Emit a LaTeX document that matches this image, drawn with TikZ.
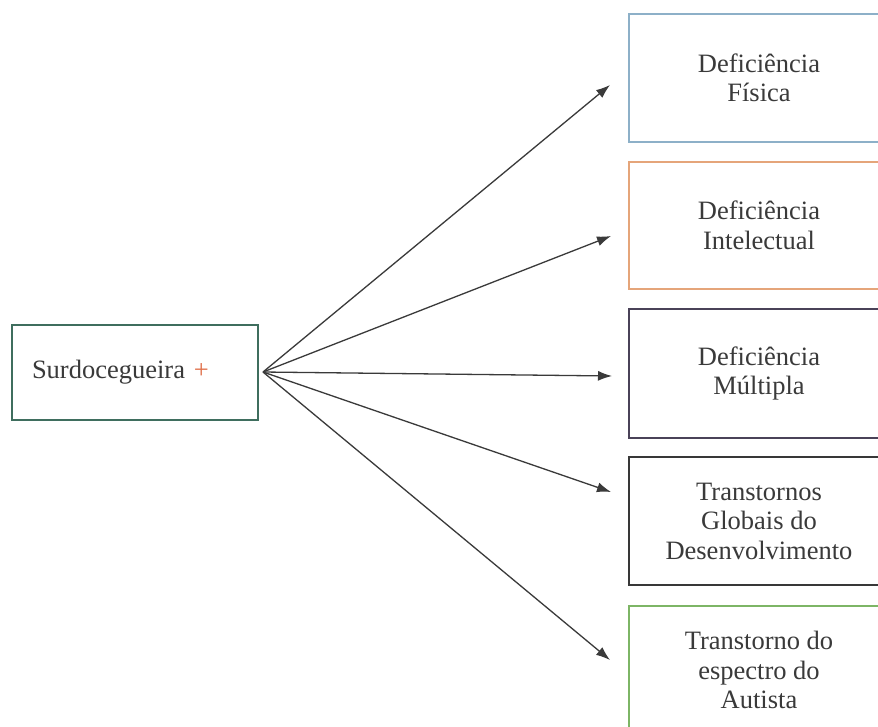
\documentclass[tikz,border=0pt]{standalone}
\usepackage{fontspec}
\setmainfont{Liberation Serif}
\usetikzlibrary{arrows.meta}
\definecolor{txt}{HTML}{3A3A3A}
\definecolor{cblue}{HTML}{8DB0C8}
\definecolor{corange}{HTML}{E5A57A}
\definecolor{cpurple}{HTML}{4A4258}
\definecolor{cdark}{HTML}{383838}
\definecolor{cgreen}{HTML}{7DB565}
\definecolor{cteal}{HTML}{3F6E5E}
\definecolor{cplus}{HTML}{E0704A}
\begin{document}
\begin{tikzpicture}[x=1pt,y=-1pt,
  every node/.style={font=\fontsize{26.5}{29.5}\selectfont, text=txt},
  catbox/.style={draw, line width=2pt, minimum width=260pt, minimum height=128pt, align=center, inner sep=0pt},
  srcbox/.style={draw=cteal, line width=2.4pt, minimum height=95pt, text width=206pt, inner xsep=20pt, inner ysep=0pt, align=left},
  arr/.style={draw=txt, line width=1.3pt, -{Latex[length=14pt,width=10pt]}}]
\useasboundingbox[fill=white] (0,0) rectangle (878,726);
\begin{scope}
\clip (0,0) rectangle (878,726);
\node[srcbox] (src) at (135,372.5) {Surdocegueira {\color{cplus}+}};
\node[catbox, draw=cblue] (b1) at (759,78) {Deficiência\\Física};
\node[catbox, draw=corange, minimum height=127pt] (b2) at (759,225.5) {Deficiência\\Intelectual};
\node[catbox, draw=cpurple, minimum height=129pt] (b3) at (759,373.5) {Deficiência\\Múltipla};
\node[catbox, draw=cdark] (b4) at (759,521) {Transtornos\\Globais do\\Desenvolvimento};
\node[catbox, draw=cgreen] (b5) at (759,670) {Transtorno do\\espectro do\\Autista};
\coordinate (hub) at (263,372);
\coordinate (t1) at (610,85);
\coordinate (t2) at (611,236);
\coordinate (t3) at (612,376);
\coordinate (t4) at (611,492);
\coordinate (t5) at (610,660);
\foreach \t in {t1,t2,t3,t4,t5} \draw[arr] (hub) -- (\t);
\end{scope}
\end{tikzpicture}
\end{document}
